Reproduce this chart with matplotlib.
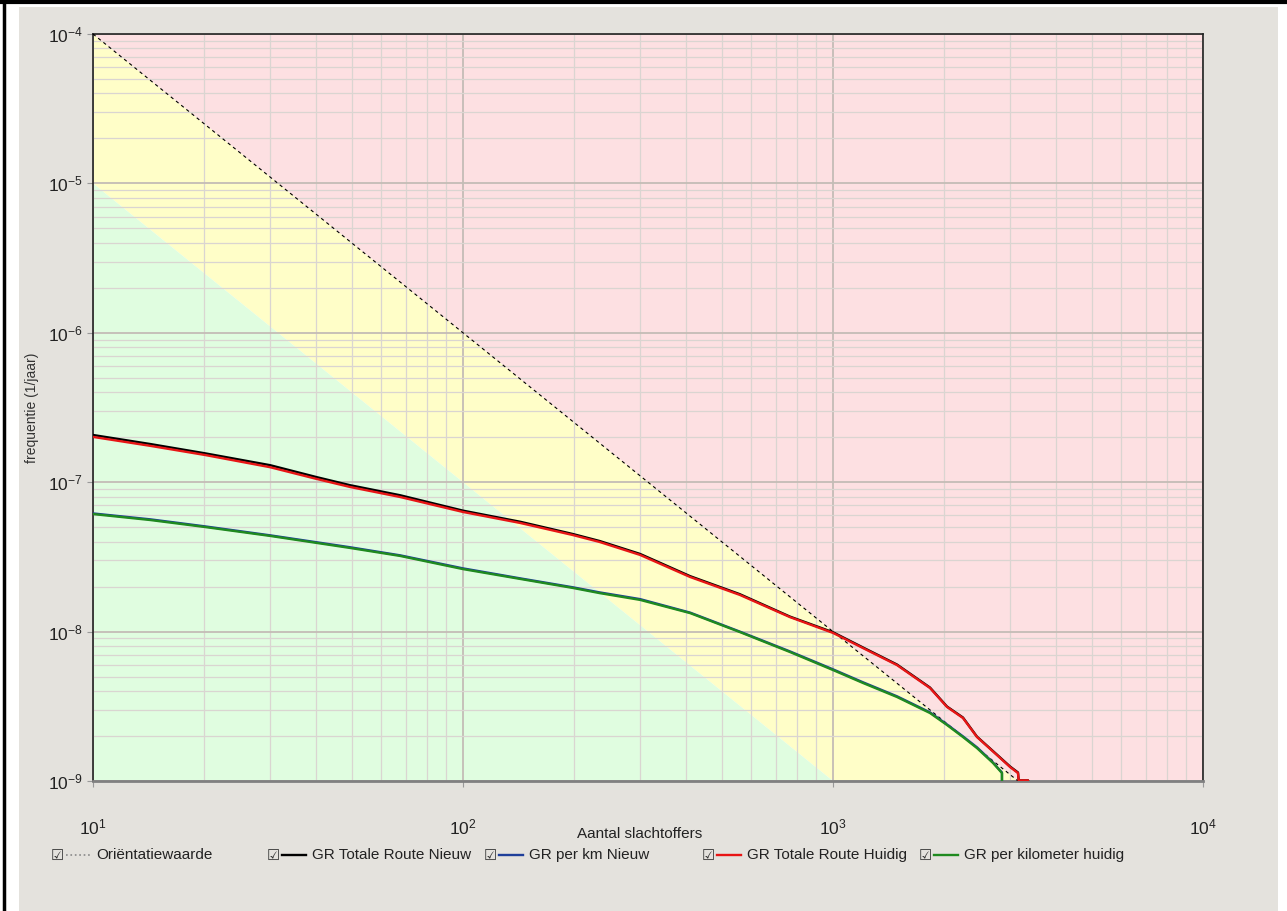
import matplotlib
matplotlib.use('Agg')
import matplotlib.pyplot as plt
from matplotlib.patches import Rectangle
from matplotlib.lines import Line2D
from matplotlib.ticker import FixedLocator, NullFormatter, LogLocator

plt.rcParams['font.family'] = ['Liberation Sans', 'DejaVu Sans']
plt.rcParams['mathtext.fontset'] = 'custom'
plt.rcParams['mathtext.rm'] = 'Liberation Sans'

# orientation value and the lower limit (two ends of each line)
grens_n = [10, 10000]
orientatie_f = [1e-4, 1e-10]
ondergrens_f = [1e-5, 1e-11]

# GR Totale Route
n_totaal = [10, 14.3, 20.1, 30.1, 40.3, 49.5, 67.6, 100, 143, 198, 234, 301, 411, 560,
            765, 1000, 1205, 1489, 1829, 2033, 2245, 2450, 2775, 3010, 3162, 3175, 3366, 3370]
f_totaal_huidig = [2.01e-7, 1.75e-7, 1.52e-7, 1.26e-7, 1.05e-7, 9.29e-8, 7.96e-8, 6.32e-8,
                   5.33e-8, 4.43e-8, 3.98e-8, 3.26e-8, 2.32e-8, 1.76e-8, 1.25e-8, 9.8e-9,
                   7.76e-9, 5.97e-9, 4.19e-9, 3.13e-9, 2.64e-9, 1.97e-9, 1.49e-9, 1.24e-9,
                   1.13e-9, 1.01e-9, 1.01e-9, 1e-10]
f_totaal_nieuw = [2.07e-7, 1.80e-7, 1.56e-7, 1.30e-7, 1.08e-7, 9.55e-8, 8.18e-8, 6.45e-8,
                  5.43e-8, 4.50e-8, 4.04e-8, 3.31e-8, 2.35e-8, 1.78e-8, 1.26e-8, 9.9e-9,
                  7.83e-9, 6.02e-9, 4.22e-9, 3.15e-9, 2.66e-9, 1.98e-9, 1.50e-9, 1.25e-9,
                  1.14e-9, 1.01e-9, 1.01e-9, 1e-10]

# GR per kilometer
n_km = [10, 14.3, 20.1, 30.1, 49.5, 67.6, 100, 143, 198, 234, 301, 411, 560, 765, 1000,
        1205, 1489, 1829, 2033, 2245, 2450, 2707, 2862, 2866]
f_km_huidig = [6.12e-8, 5.58e-8, 5.01e-8, 4.37e-8, 3.63e-8, 3.21e-8, 2.62e-8, 2.25e-8,
               1.96e-8, 1.81e-8, 1.63e-8, 1.33e-8, 9.93e-9, 7.30e-9, 5.53e-9, 4.53e-9,
               3.65e-9, 2.85e-9, 2.37e-9, 1.97e-9, 1.66e-9, 1.32e-9, 1.13e-9, 1e-10]
f_km_nieuw = [6.18e-8, 5.64e-8, 5.06e-8, 4.41e-8, 3.67e-8, 3.24e-8, 2.65e-8, 2.27e-8,
              1.98e-8, 1.83e-8, 1.65e-8, 1.34e-8, 1.00e-8, 7.37e-9, 5.59e-9, 4.58e-9,
              3.69e-9, 2.88e-9, 2.39e-9, 1.99e-9, 1.68e-9, 1.33e-9, 1.14e-9, 1e-10]

x_ticks = [10, 100, 1000, 10000]
y_ticks = [1e-9, 1e-8, 1e-7, 1e-6, 1e-5, 1e-4]

legend_labels = ['Oriëntatiewaarde', 'GR Totale Route Nieuw', 'GR per km Nieuw',
                 'GR Totale Route Huidig', 'GR per kilometer huidig']

W, H = 1287, 911
fig = plt.figure(figsize=(W / 100, H / 100), dpi=100, facecolor='white')

# window frame
fig.patches.append(Rectangle((19 / W, 0), 1259 / W, (H - 7) / H, transform=fig.transFigure,
                             facecolor='#e4e2dd', edgecolor='none', zorder=-10))
fig.lines.append(Line2D([0, 1], [1 - 2 / H, 1 - 2 / H], transform=fig.transFigure,
                        color='black', lw=3))
fig.lines.append(Line2D([3.5 / W, 3.5 / W], [0, 1], transform=fig.transFigure,
                        color='black', lw=2.5))

ax = fig.add_axes([93 / W, (H - 781) / H, 1110 / W, 747 / H])
ax.set_xscale('log')
ax.set_yscale('log')

# zones
ax.fill_between(grens_n, orientatie_f, 1e-2, color='#fde0e2', lw=0)
ax.fill_between(grens_n, ondergrens_f, orientatie_f, color='#fffec8', lw=0)
ax.fill_between(grens_n, 1e-14, ondergrens_f, color='#e0fde0', lw=0)

ax.plot(grens_n, orientatie_f, color='black', lw=0.8, linestyle=(0, (3, 3)), zorder=3)
ax.plot(n_totaal, f_totaal_nieuw, color='black', lw=1.7, zorder=4)
ax.plot(n_km, f_km_nieuw, color='#1f3f9a', lw=1.7, zorder=4)
ax.plot(n_totaal, f_totaal_huidig, color='#e81515', lw=1.7, zorder=5)
ax.plot(n_km, f_km_huidig, color='#1f8a1f', lw=1.7, zorder=5)

ax.set_xlim(10, 10000)
ax.set_ylim(1e-9, 1e-4)

ax.xaxis.set_major_locator(FixedLocator(x_ticks))
ax.yaxis.set_major_locator(FixedLocator(y_ticks))
ax.set_xticklabels([r'$\mathregular{10^{%d}}$' % e for e in [1, 2, 3, 4]])
ax.set_yticklabels([r'$\mathregular{10^{%d}}$' % e for e in [-9, -8, -7, -6, -5, -4]])
ax.xaxis.set_minor_locator(LogLocator(base=10, subs=range(2, 10)))
ax.yaxis.set_minor_locator(LogLocator(base=10, subs=range(2, 10)))
ax.xaxis.set_minor_formatter(NullFormatter())
ax.yaxis.set_minor_formatter(NullFormatter())
ax.tick_params(which='major', length=4, color='#999999', labelsize=12.5, labelcolor='#222222')
ax.tick_params(axis='x', which='major', pad=22)
ax.tick_params(which='minor', length=0)

ax.grid(True, which='major', color='#c4bcb6', lw=1.3)
ax.grid(True, which='minor', color='#dad5d1', lw=0.9)

for side in ['top', 'left', 'right']:
    ax.spines[side].set_color('#222222')
    ax.spines[side].set_linewidth(1.2)
ax.spines['bottom'].set_color('#808080')
ax.spines['bottom'].set_linewidth(2)

ax.set_ylabel('frequentie (1/jaar)', fontsize=10, color='#333333', labelpad=6)
fig.text(640 / W, 1 - 834 / H, 'Aantal slachtoffers', ha='center', va='center',
         fontsize=11, color='#222222')

# legend row with check boxes
leg_x = [51, 267, 484, 702, 919]
leg_styles = [('#888888', ':'), ('black', '-'), ('#1f3f9a', '-'), ('#e81515', '-'), ('#1f8a1f', '-')]
leg_y = 1 - 855 / H
for x0, label, (c, ls) in zip(leg_x, legend_labels, leg_styles):
    fig.text(x0 / W, leg_y, '☑', ha='left', va='center', fontsize=10.5,
             family=['DejaVu Sans'], color='#333333')
    fig.lines.append(Line2D([(x0 + 15) / W, (x0 + 39) / W], [leg_y, leg_y],
                            transform=fig.transFigure, color=c, lw=1.7 if ls == '-' else 1.2,
                            linestyle=ls))
    fig.text((x0 + 45) / W, leg_y, label, ha='left', va='center', fontsize=11,
             color='#222222')

fig.savefig('out.png', dpi=100, facecolor='white')
